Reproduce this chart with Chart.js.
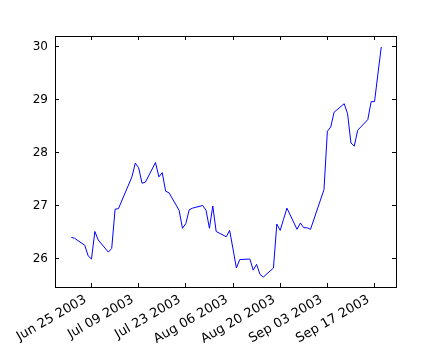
<!DOCTYPE html>
<html><head><meta charset="utf-8">
<script src="https://cdn.jsdelivr.net/npm/chart.js@4/dist/chart.umd.min.js"></script>
<style>html,body{margin:0;padding:0;background:#fff}canvas{display:block}</style>
</head><body>
<canvas id="c" width="440" height="360"></canvas>
<script>
// Trading dates and closing prices
const dates = [
 '2003-06-19','2003-06-20','2003-06-23','2003-06-24','2003-06-25','2003-06-26','2003-06-27',
 '2003-06-30','2003-07-01','2003-07-02','2003-07-03',
 '2003-07-07','2003-07-08','2003-07-09','2003-07-10','2003-07-11',
 '2003-07-14','2003-07-15','2003-07-16','2003-07-17','2003-07-18',
 '2003-07-21','2003-07-22','2003-07-23','2003-07-24','2003-07-25',
 '2003-07-28','2003-07-29','2003-07-30','2003-07-31','2003-08-01',
 '2003-08-04','2003-08-05','2003-08-06','2003-08-07','2003-08-08',
 '2003-08-11','2003-08-12','2003-08-13','2003-08-14','2003-08-15',
 '2003-08-18','2003-08-19','2003-08-20','2003-08-21','2003-08-22',
 '2003-08-25','2003-08-26','2003-08-27','2003-08-28','2003-08-29',
 '2003-09-02','2003-09-03','2003-09-04','2003-09-05',
 '2003-09-08','2003-09-09','2003-09-10','2003-09-11','2003-09-12',
 '2003-09-15','2003-09-16','2003-09-17','2003-09-18','2003-09-19'
];
const closes = [
 26.40,26.38,26.25,26.05,25.99,26.51,26.35,
 26.12,26.19,26.93,26.94,
 27.54,27.80,27.71,27.42,27.44,
 27.81,27.54,27.62,27.27,27.24,
 26.91,26.57,26.66,26.92,26.95,
 27.00,26.91,26.57,26.99,26.51,
 26.41,26.53,26.18,25.82,25.98,
 25.99,25.78,25.89,25.70,25.65,
 25.82,26.65,26.53,26.74,26.95,
 26.55,26.67,26.58,26.58,26.55,
 27.30,28.40,28.48,28.76,
 28.92,28.73,28.18,28.12,28.42,
 28.62,28.96,28.96,29.48,29.99
];
const tickDates = ['2003-06-25','2003-07-09','2003-07-23','2003-08-06','2003-08-20','2003-09-03','2003-09-17'];
const tickLabels = ['Jun 25 2003','Jul 09 2003','Jul 23 2003','Aug 06 2003','Aug 20 2003','Sep 03 2003','Sep 17 2003'];
const yTicks = [26, 27, 28, 29, 30];

function dayNum(s){const p=s.split('-').map(Number);return Date.UTC(p[0],p[1]-1,p[2])/86400000;}
const tickDays = tickDates.map(dayNum);
const points = dates.map((d,i)=>({x: dayNum(d), y: closes[i]}));

Chart.defaults.font.family = "'DejaVu Sans', sans-serif";
Chart.defaults.font.size = 12;
Chart.defaults.color = '#000';

const frame = {
  id: 'frame',
  afterDatasetsDraw(chart){
    const {ctx, chartArea:a, scales:{x, y}} = chart;
    ctx.save();
    ctx.strokeStyle = '#000';
    ctx.lineWidth = 1;
    ctx.beginPath();
    x.ticks.forEach(t=>{
      const px = Math.floor(x.getPixelForValue(t.value)) + 0.5;
      ctx.moveTo(px, a.bottom); ctx.lineTo(px, a.bottom - 4);
      ctx.moveTo(px, a.top); ctx.lineTo(px, a.top + 4);
    });
    y.ticks.forEach(t=>{
      const py = Math.floor(y.getPixelForValue(t.value)) + 0.5;
      ctx.moveTo(a.left, py); ctx.lineTo(a.left + 4, py);
      ctx.moveTo(a.right, py); ctx.lineTo(a.right - 4, py);
    });
    ctx.stroke();
    ctx.strokeRect(a.left + 0.5, a.top + 0.5, a.right - a.left, a.bottom - a.top);
    ctx.restore();
  }
};

new Chart(document.getElementById('c'), {
  type: 'line',
  data: { datasets: [{ data: points, borderColor: '#0000ff', borderWidth: 1, pointRadius: 0, tension: 0, fill: false }] },
  options: {
    responsive: false, animation: false,
    layout: { padding: { left: 0, top: 36, right: 44, bottom: 0 } },
    plugins: { legend: { display: false }, tooltip: { enabled: false } },
    scales: {
      x: {
        type: 'linear',
        min: dayNum('2003-06-25') - 10.83,
        max: dayNum('2003-09-17') + 6.37,
        grid: { display: false, drawTicks: false },
        border: { display: false },
        afterBuildTicks(s){ s.ticks = tickDays.map(v=>({value: v})); },
        afterFit(s){ s.height = 73; },
        ticks: {
          autoSkip: false, minRotation: 30, maxRotation: 30, padding: 5, labelOffset: -6,
          font: { size: 13 },
          callback(v){ const i = tickDays.indexOf(v); return i >= 0 ? tickLabels[i] : ''; }
        }
      },
      y: {
        min: 25.462, max: 30.198,
        grid: { display: false, drawTicks: false },
        border: { display: false },
        afterBuildTicks(s){ s.ticks = yTicks.map(v=>({value: v})); },
        afterFit(s){ s.width = 55; },
        ticks: { padding: 7, callback(v){ return String(v); } }
      }
    }
  },
  plugins: [frame]
});
</script>
</body></html>
